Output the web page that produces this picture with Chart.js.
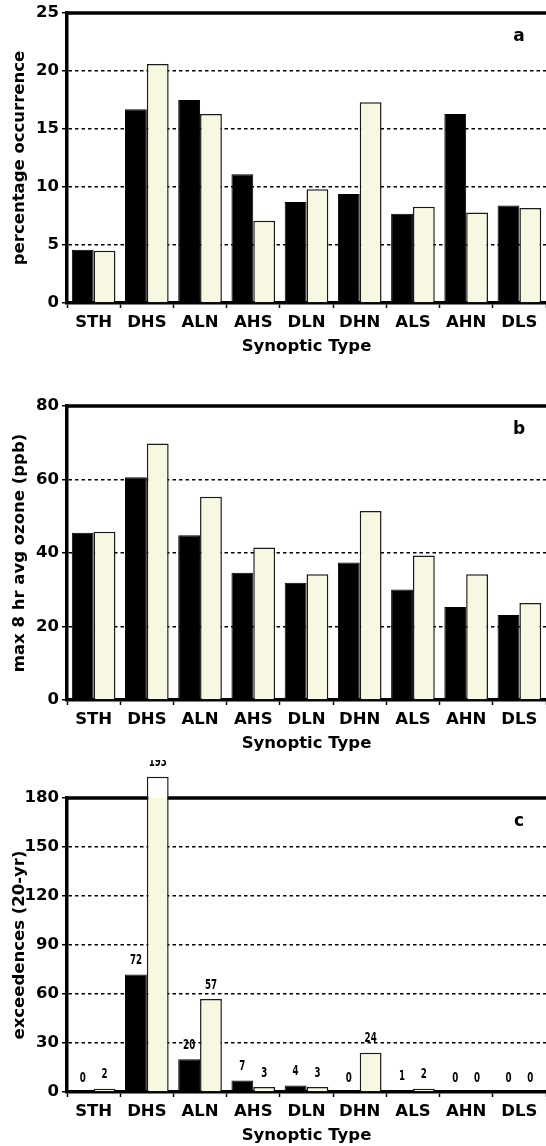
<!DOCTYPE html>
<html>
<head>
<meta charset="utf-8">
<script src="https://cdn.jsdelivr.net/npm/chart.js@4/dist/chart.umd.min.js"></script>
<style>
    html, body { margin: 0; padding: 0; background: #fff; overflow: hidden; }
    body { width: 546px; height: 1146px; position: relative; }
    .panel { position: absolute; left: 0; width: 546px; }
</style>
</head>
<body>
<div class="panel" id="boxA" style="top:0px;height:360px;"><canvas id="chartA"></canvas></div>
<div class="panel" id="boxB" style="top:380px;height:377px;"><canvas id="chartB"></canvas></div>
<div class="panel" id="boxC" style="top:760px;height:389px;"><canvas id="chartC"></canvas></div>
<script>
// Data
const synopticTypes = ['STH', 'DHS', 'ALN', 'AHS', 'DLN', 'DHN', 'ALS', 'AHN', 'DLS'];

const occurBlack = [4.6, 16.7, 17.5, 11.1, 8.7, 9.4, 7.7, 16.3, 8.4];
const occurCream = [4.5, 20.6, 16.3, 7.1, 9.8, 17.3, 8.3, 7.8, 8.2];

const ozoneBlack = [45.5, 60.6, 44.8, 34.6, 31.9, 37.4, 30.1, 25.3, 23.1];
const ozoneCream = [45.8, 69.8, 55.3, 41.5, 34.2, 51.4, 39.3, 34.2, 26.4];

const exceedBlack = [0, 72, 20, 7, 4, 0, 1, 0, 0];
const exceedCream = [2, 193, 57, 3, 3, 24, 2, 0, 0];

const cream = '#F8F8E2';

Chart.defaults.font.family = "'DejaVu Sans', sans-serif";
Chart.defaults.font.weight = 'bold';
Chart.defaults.font.size = 16.5;
Chart.defaults.color = '#000';
Chart.defaults.animation = false;

// top frame line, panel letter, value labels
const panelPlugin = {
    id: 'panelDeco',
    beforeDatasetsDraw(chart) {
        let a = chart.chartArea;
        let ctx = chart.ctx;
        ctx.save();
        ctx.strokeStyle = '#000';
        ctx.lineWidth = 3.5;
        ctx.beginPath();
        ctx.moveTo(a.left - 1, a.top);
        ctx.lineTo(a.right + 2, a.top);
        ctx.stroke();
        ctx.restore();
    },
    afterDatasetsDraw(chart, args, opts) {
        let a = chart.chartArea;
        let ctx = chart.ctx;
        ctx.save();
        ctx.fillStyle = '#000';
        ctx.font = "bold 17px 'DejaVu Sans', sans-serif";
        ctx.textAlign = 'center';
        ctx.textBaseline = 'middle';
        ctx.fillText(opts.letter, a.right - 27, a.top + 24);

        if (opts.valueLabels) {
            // narrow tall digits, squeezed sideways
            ctx.font = "bold 14px 'DejaVu Sans', sans-serif";
            chart.data.datasets.forEach(function(ds, i) {
                let meta = chart.getDatasetMeta(i);
                meta.data.forEach(function(bar, j) {
                    ctx.save();
                    ctx.translate(bar.x, bar.y - 14);
                    ctx.scale(0.62, 1);
                    ctx.fillText(String(ds.data[j]), 0, 0);
                    ctx.restore();
                });
            });
        }
        ctx.restore();
    }
};

function creamFill(c) {
    let chart = c.chart;
    let area = chart.chartArea;
    if (!area) return cream;
    let g = chart.ctx.createLinearGradient(0, 0, 0, chart.height);
    let s = area.top / chart.height;
    g.addColorStop(0, '#fff');
    g.addColorStop(s, '#fff');
    g.addColorStop(s, cream);
    g.addColorStop(1, cream);
    return g;
}

function makeChart(id, black, light, yMax, yStep, yTitle, letter, padTop, valueLabels) {
    return new Chart(document.getElementById(id), {
        type: 'bar',
        data: {
            labels: synopticTypes,
            datasets: [{
                data: black,
                backgroundColor: '#000',
                borderColor: '#000',
                borderWidth: 1,
                categoryPercentage: 0.82,
                barPercentage: 1.0
            }, {
                data: light,
                backgroundColor: creamFill,
                borderColor: '#1a1a1a',
                borderWidth: 1.5,
                categoryPercentage: 0.82,
                barPercentage: 1.0,
                clip: false
            }]
        },
        options: {
            responsive: true,
            maintainAspectRatio: false,
            layout: { padding: { top: padTop, left: 0, right: 0, bottom: 0 } },
            plugins: {
                legend: { display: false },
                tooltip: { enabled: false },
                panelDeco: { letter: letter, valueLabels: valueLabels }
            },
            scales: {
                x: {
                    afterFit: function(scale) { scale.height = 57; },
                    grid: {
                        display: true,
                        drawOnChartArea: false,
                        tickLength: 5,
                        tickColor: '#000',
                        tickWidth: 1.5
                    },
                    border: { display: true, color: '#000', width: 3.5 },
                    ticks: { padding: 5, maxRotation: 0, autoSkip: false },
                    title: {
                        display: true,
                        text: 'Synoptic Type',
                        padding: { top: 0, bottom: 3 }
                    }
                },
                y: {
                    min: 0,
                    max: yMax,
                    afterFit: function(scale) { scale.width = 67; },
                    ticks: { stepSize: yStep, padding: 3 },
                    grid: {
                        color: function(c) {
                            return (c.tick.value === 0 || c.tick.value === yMax) ? 'rgba(0,0,0,0)' : '#000';
                        },
                        lineWidth: 1.5,
                        tickLength: 5,
                        tickColor: '#000',
                        tickWidth: 1.5
                    },
                    border: { display: true, color: '#000', width: 3.5, dash: [3.5, 3] },
                    title: {
                        display: true,
                        text: yTitle,
                        padding: { top: 10, bottom: 0 }
                    }
                }
            }
        },
        plugins: [panelPlugin]
    });
}

// Chart Init
makeChart('chartA', occurBlack, occurCream, 25, 5, 'percentage occurrence', 'a', 13, false);
makeChart('chartB', ozoneBlack, ozoneCream, 80, 20, 'max 8 hr avg ozone (ppb)', 'b', 26, false);
makeChart('chartC', exceedBlack, exceedCream, 180, 30, 'exceedences (20-yr)', 'c', 38, true);
</script>
</body>
</html>
